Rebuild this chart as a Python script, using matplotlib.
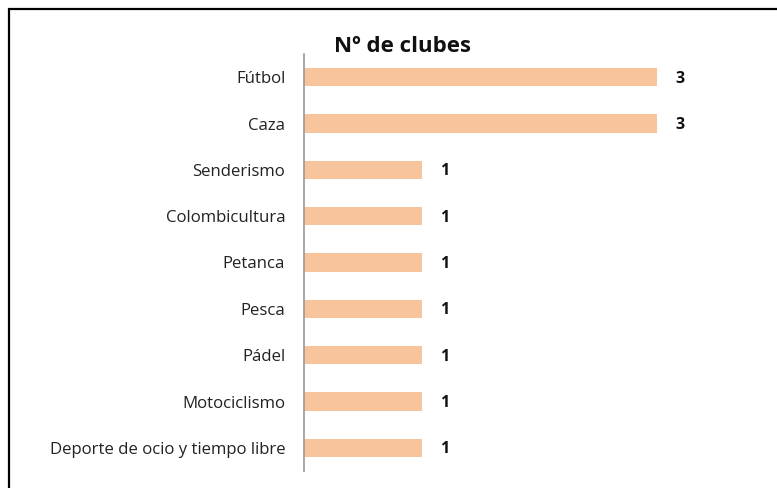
import matplotlib
matplotlib.use("Agg")
import matplotlib.pyplot as plt
from matplotlib.patches import Rectangle

categories = ["Fútbol", "Caza", "Senderismo", "Colombicultura", "Petanca",
              "Pesca", "Pádel", "Motociclismo", "Deporte de ocio y tiempo libre"]
values = [3, 3, 1, 1, 1, 1, 1, 1, 1]
title = "Nº de clubes"

plt.rcParams['font.family'] = ['Open Sans', 'DejaVu Sans']

W, H = 777, 488
fig = plt.figure(figsize=(W/100, H/100), dpi=100)
fig.patch.set_facecolor("white")

# frame
fig.add_artist(Rectangle((8.5/W, -0.1), 1.2, (H-8.5)/H + 0.1, transform=fig.transFigure,
                         fill=False, edgecolor="black", linewidth=1.6))

left, right = 304/W, 657/W
top, bottom = 1 - 54/H, 1 - 471/H
ax = fig.add_axes([left, bottom, right-left, top-bottom])

y = list(range(len(categories)))
ax.barh(y, values, height=0.39, color="#F8C49C", zorder=2)
ax.set_xlim(0, 3)
ax.set_ylim(len(categories)-0.5, -0.5)
ax.set_yticks(y)
ax.set_yticklabels(categories, fontsize=12.1, color="#222222")
ax.tick_params(axis="y", length=0, pad=13.5)
ax.set_xticks([])
for s in ["top", "right", "bottom"]:
    ax.spines[s].set_visible(False)
ax.spines["left"].set_color("#999999")
ax.spines["left"].set_linewidth(1.2)

for yi, v in zip(y, values):
    ax.annotate(str(v), (v, yi), xytext=(13, -1), textcoords="offset points",
                ha="left", va="center", fontsize=11.5, fontweight="bold",
                color="#111111", annotation_clip=False)

fig.text(402/W, 1 - 47/H, title, ha="center", va="center", fontsize=16,
         fontweight="bold", color="#111111")

fig.savefig("out.png", dpi=100)
